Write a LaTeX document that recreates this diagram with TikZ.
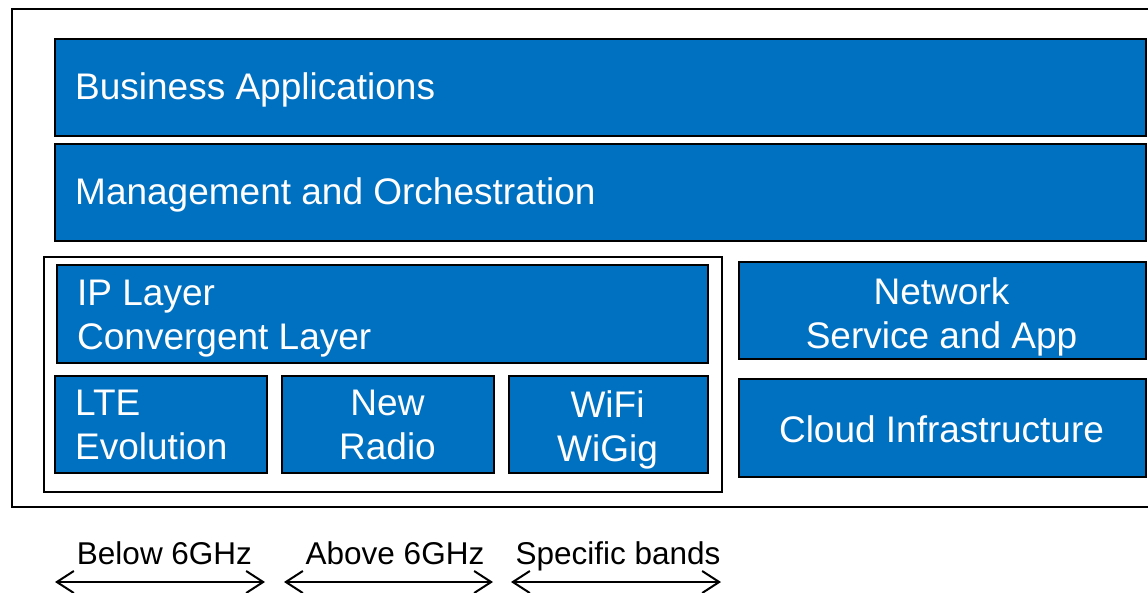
\documentclass[tikz,border=0pt]{standalone}
\usepackage{fontspec}
\setmainfont{Liberation Sans}
\usetikzlibrary{arrows.meta}
\definecolor{layerblue}{HTML}{0070C0}
\begin{document}
\begin{tikzpicture}[x=1pt,y=-1pt,
  blk/.style={draw=black, line width=1.8pt, fill=layerblue, inner sep=0pt, anchor=north west},
  frame/.style={draw=black, line width=1.6pt, inner sep=0pt, anchor=north west},
  lbl/.style={text=white, inner sep=0pt, font=\fontsize{37}{44}\selectfont},
  band/.style={inner sep=0pt, font=\fontsize{31.5}{38}\selectfont},
  barb/.tip={Straight Barb[length=17pt,width=22pt]},
  span/.style={line width=2pt, barb-barb}
]
\useasboundingbox (0,0) rectangle (1148,592);

% outer frame and inner access-network frame
\node[frame, minimum width=1160pt, minimum height=498pt] (outer) at (11,8) {};
\node[frame, minimum width=678pt, minimum height=235pt] (access) at (43,256) {};

% layer blocks
\node[blk, minimum width=1091pt, minimum height=97pt] (biz) at (54,38) {};
\node[blk, minimum width=1091pt, minimum height=97pt] (mgmt) at (54,143) {};
\node[blk, minimum width=651pt, minimum height=98pt] (ip) at (56,264) {};
\node[blk, minimum width=212pt, minimum height=97pt] (lte) at (54,375) {};
\node[blk, minimum width=212pt, minimum height=97pt] (nr) at (281,375) {};
\node[blk, minimum width=199pt, minimum height=97pt] (wifi) at (508,375) {};
\node[blk, minimum width=407pt, minimum height=97pt] (net) at (738,261) {};
\node[blk, minimum width=407pt, minimum height=98pt] (cloud) at (738,378) {};

% block labels
\node[lbl, anchor=base west] (bizt) at (75,99) {Business Applications};
\node[lbl, anchor=base west] (mgmtt) at (75,204) {Management and Orchestration};
\node[lbl, anchor=north west, align=left] (ipt) at (77,280) {IP Layer\\Convergent Layer};
\node[lbl, anchor=north west, align=left] (ltet) at (75,390) {LTE\\Evolution};
\node[lbl, anchor=north, align=center] (nrt) at (387.5,390) {New\\Radio};
\node[lbl, anchor=north, align=center] (wifit) at (607.5,390) {WiFi\\WiGig};
\node[lbl, anchor=north, align=center] (nett) at (941.5,277) {Network\\Service and App};
\node[lbl, anchor=base] (cloudt) at (941.5,442) {Cloud Infrastructure};

% spectrum bands
\node[band, anchor=base] (b1) at (164.5,564) {Below 6GHz};
\node[band, anchor=base] (b2) at (395,564) {Above 6GHz};
\node[band, anchor=base] (b3) at (618,564) {Specific bands};
\coordinate (b1l) at (55,582);
\coordinate (b1r) at (265,582);
\coordinate (b2l) at (284,582);
\coordinate (b2r) at (493,582);
\coordinate (b3l) at (511,582);
\coordinate (b3r) at (721,582);
\draw[span] (b1l) -- (b1r);
\draw[span] (b2l) -- (b2r);
\draw[span] (b3l) -- (b3r);
\end{tikzpicture}
\end{document}
